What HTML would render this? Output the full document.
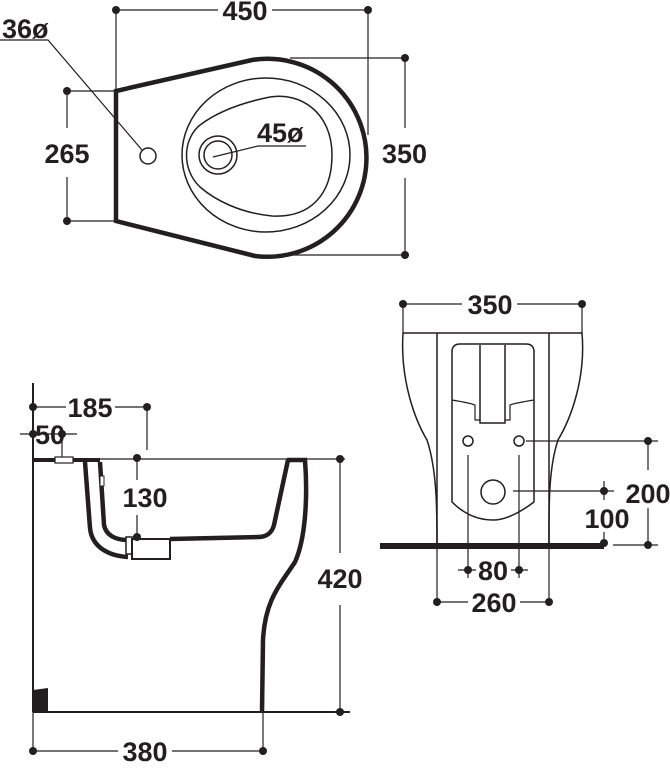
<!DOCTYPE html>
<html><head><meta charset="utf-8"><style>
html,body{margin:0;padding:0;background:#fff}
svg{display:block}
text{font-family:"Liberation Sans",sans-serif;font-weight:bold;font-size:27px;fill:#231f20}
</style></head><body>
<svg width="670" height="781" viewBox="0 0 670 781" xmlns="http://www.w3.org/2000/svg">
<g stroke="#231f20" fill="none" stroke-width="1.2">
<line x1="116" y1="10" x2="218" y2="10"/><line x1="272" y1="10" x2="368" y2="10"/>
<line x1="116" y1="10" x2="116" y2="91"/><line x1="368" y1="10" x2="368" y2="135"/>
<line x1="290" y1="58" x2="405" y2="58"/><line x1="290" y1="255" x2="405" y2="255"/>
<line x1="405" y1="58" x2="405" y2="128"/><line x1="405" y1="178" x2="405" y2="255"/>
<line x1="67" y1="91" x2="116" y2="91"/><line x1="67" y1="221" x2="116" y2="221"/>
<line x1="67" y1="91" x2="67" y2="128"/><line x1="67" y1="177" x2="67" y2="221"/>
<polyline points="0,40 48,40 142,150"/>
<polyline points="213,157 258,146 306,146"/>
<path d="M116,91 L116,221 L255,256 A99,99 0 1 0 252,60 Z" stroke-width="4.5"/>
<ellipse cx="266" cy="155" rx="84" ry="77" stroke-width="1.5"/>
<path d="M270,97 C300,92 332,112 332,155 C332,195 310,218 272,216 C240,213 215,200 200,187 C182,170 182,140 200,125 C220,110 245,102 270,97 Z" stroke-width="1.5"/>
<circle cx="148" cy="156" r="8" stroke-width="1.5"/>
<circle cx="218" cy="155" r="19" stroke-width="1.5"/>
<circle cx="218" cy="155" r="14" stroke-width="1.5"/>

<line x1="33" y1="383" x2="33" y2="712" stroke-width="2"/>
<line x1="33" y1="712" x2="350" y2="712" stroke-width="2"/>
<line x1="33" y1="407" x2="66" y2="407"/><line x1="115" y1="407" x2="147" y2="407"/>
<line x1="147" y1="407" x2="147" y2="450"/>
<line x1="20" y1="434" x2="77" y2="434"/>
<line x1="62" y1="434" x2="62" y2="459"/>
<line x1="100" y1="459" x2="290" y2="459"/>
<line x1="305" y1="459" x2="345" y2="459"/>
<line x1="340" y1="459" x2="340" y2="553"/><line x1="340" y1="605" x2="340" y2="712"/>
<line x1="137" y1="459" x2="137" y2="480"/><line x1="137" y1="515" x2="137" y2="537"/>
<line x1="33" y1="712" x2="33" y2="755"/><line x1="263" y1="712" x2="263" y2="755"/>
<line x1="33" y1="751" x2="118" y2="751"/><line x1="172" y1="751" x2="263" y2="751"/>
<line x1="33" y1="460" x2="100" y2="460" stroke-width="4"/>
<rect x="55" y="457" width="18" height="6" stroke-width="1.2" fill="#fff"/>
<path d="M287,460 L305,460 C308,500 305,540 295,562 C280,585 265,600 263,640 L262,712" stroke-width="4.5"/>
<path d="M288,460 L274,525 C272,533 266,537 258,537 L170,539" stroke-width="4.5"/>
<path d="M85,462 L90,528 C92,548 110,556 128,557" stroke-width="4.5"/>
<path d="M100,462 L104,525 C106,535 115,540 128,540" stroke-width="4.5"/>
<rect x="100" y="476" width="4" height="10" stroke-width="1" fill="#fff"/>
<rect x="126" y="537" width="10" height="17" stroke-width="1.5" fill="#fff"/>
<rect x="132" y="539" width="38" height="20" stroke-width="2" fill="#fff"/>
<path d="M33,690 L48,688 L48,712 L33,712 Z" fill="#231f20" stroke="none"/>

<line x1="403" y1="304" x2="462" y2="304"/><line x1="517" y1="304" x2="582" y2="304"/>
<line x1="403" y1="304" x2="403" y2="333"/><line x1="582" y1="304" x2="582" y2="333"/>
<path d="M403,333 L582,333 C586,380 570,420 558,440 C548,470 549,510 549,545" stroke-width="1.5"/>
<path d="M403,333 C400,380 415,420 427,440 C437,470 437,510 437,545" stroke-width="1.5"/>
<line x1="437" y1="333" x2="437" y2="545" stroke-width="1.5"/>
<line x1="549" y1="333" x2="549" y2="545" stroke-width="1.5"/>
<path d="M460,344 L526,344 Q534,344 534,352 L534,502 Q510,520 493,520 Q470,520 452,502 L452,352 Q452,344 460,344 Z" stroke-width="1.5"/>
<path d="M452,400 Q470,403 475,405 L475,420 L480,420 M534,400 Q515,403 510,405 L510,420 L505,420" stroke-width="1.2"/>
<path d="M480,345 L480,423 L505,423 L505,345" stroke-width="1.5"/>
<circle cx="468" cy="441" r="5" stroke-width="1.5"/>
<circle cx="519" cy="441" r="5" stroke-width="1.5"/>
<circle cx="493" cy="492" r="12" stroke-width="1.5"/>
<line x1="380" y1="546" x2="604" y2="546" stroke-width="6"/>
<line x1="526" y1="441" x2="658" y2="441"/>
<line x1="613" y1="545" x2="658" y2="545"/>
<line x1="648" y1="441" x2="648" y2="470"/><line x1="648" y1="508" x2="648" y2="545"/>
<line x1="513" y1="491" x2="614" y2="491"/>
<line x1="604" y1="481" x2="604" y2="500"/><line x1="604" y1="532" x2="604" y2="546"/>
<line x1="468" y1="455" x2="468" y2="578"/><line x1="519" y1="455" x2="519" y2="578"/>
<line x1="458" y1="570" x2="476" y2="570"/><line x1="511" y1="570" x2="528" y2="570"/>
<line x1="437" y1="545" x2="437" y2="606"/><line x1="549" y1="545" x2="549" y2="606"/>
<line x1="437" y1="602" x2="468" y2="602"/><line x1="520" y1="602" x2="549" y2="602"/>
</g>
<g fill="#231f20">
<circle cx="116" cy="10" r="4"/><circle cx="368" cy="10" r="4"/>
<circle cx="405" cy="58" r="4"/><circle cx="405" cy="255" r="4"/>
<circle cx="67" cy="91" r="4"/><circle cx="67" cy="221" r="4"/>
<circle cx="33" cy="407" r="4"/><circle cx="147" cy="407" r="4"/>
<circle cx="33" cy="434" r="4"/><circle cx="62" cy="434" r="4"/>
<circle cx="137" cy="458" r="4"/><circle cx="137" cy="537" r="4"/>
<circle cx="340" cy="459" r="4"/><circle cx="340" cy="712" r="4"/>
<circle cx="33" cy="751" r="4"/><circle cx="263" cy="751" r="4"/>
<circle cx="403" cy="304" r="4"/><circle cx="582" cy="304" r="4"/>
<circle cx="648" cy="441" r="4"/><circle cx="648" cy="545" r="4"/>
<circle cx="604" cy="491" r="4"/><circle cx="604" cy="543" r="4"/>
<circle cx="468" cy="570" r="4"/><circle cx="519" cy="570" r="4"/>
<circle cx="437" cy="602" r="4"/><circle cx="549" cy="602" r="4"/>
</g>
<text x="245" y="20" text-anchor="middle">450</text>
<text x="2" y="38">36ø</text>
<text x="257" y="142">45ø</text>
<text x="67" y="163" text-anchor="middle">265</text>
<text x="382" y="163">350</text>
<text x="90" y="417" text-anchor="middle">185</text>
<text x="50" y="444" text-anchor="middle">50</text>
<text x="145" y="507" text-anchor="middle">130</text>
<text x="340" y="588" text-anchor="middle">420</text>
<text x="145" y="761" text-anchor="middle">380</text>
<text x="490" y="314" text-anchor="middle">350</text>
<text x="648" y="503" text-anchor="middle">200</text>
<text x="607" y="528" text-anchor="middle">100</text>
<text x="493" y="580" text-anchor="middle">80</text>
<text x="494" y="612" text-anchor="middle">260</text>
</svg>
</body></html>
